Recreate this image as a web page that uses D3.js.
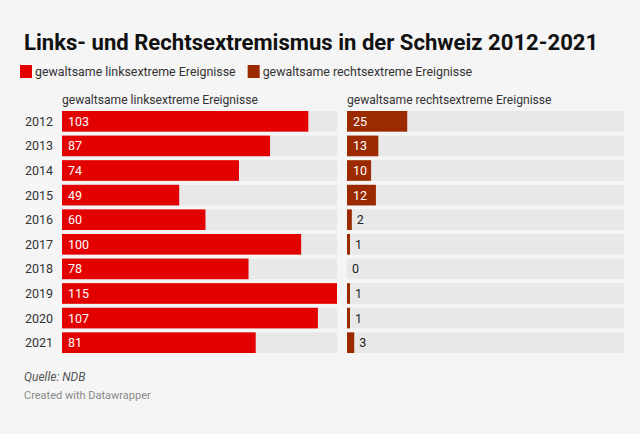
<!DOCTYPE html>
<html>
<head>
<meta charset="utf-8">
<script src="https://cdn.jsdelivr.net/npm/d3@7"></script>
<style>
  body { margin: 0; background: #f5f5f5; }
  svg { display: block; font-family: Roboto, sans-serif; }
</style>
</head>
<body>
<div id="chart"></div>
<script>
// data
var years = ["2012", "2013", "2014", "2015", "2016", "2017", "2018", "2019", "2020", "2021"];
var links = [103, 87, 74, 49, 60, 100, 78, 115, 107, 81];
var rechts = [25, 13, 10, 12, 2, 1, 0, 1, 1, 3];
var seriesNames = ["gewaltsame linksextreme Ereignisse", "gewaltsame rechtsextreme Ereignisse"];
var colors = ["#e30000", "#9c2a00"];

var width = 640, height = 434;

var svg = d3.select("#chart").append("svg")
    .attr("width", width)
    .attr("height", height);

svg.append("rect").attr("width", width).attr("height", height).attr("fill", "#f5f5f5");

// title
svg.append("text")
    .text("Links- und Rechtsextremismus in der Schweiz 2012-2021")
    .attr("x", 24).attr("y", 50)
    .attr("font-size", 22.1).attr("font-weight", 700)
    .attr("fill", "#111");

// legend
var lx = 20;
seriesNames.forEach(function(name, i) {
    svg.append("rect")
        .attr("x", lx).attr("y", 65)
        .attr("width", 12).attr("height", 13)
        .attr("fill", colors[i]);
    var t = svg.append("text")
        .text(name)
        .attr("x", lx + 15).attr("y", 76)
        .attr("font-size", 12.4).attr("fill", "#333");
    lx = lx + 15 + t.node().getComputedTextLength() + 12;
});

var y = d3.scaleBand()
    .domain(years)
    .range([111, 353])
    .paddingInner(0.16)
    .paddingOuter(0);

var panels = [
    { x0: 62, x1: 337, values: links },
    { x0: 347, x1: 624, values: rechts }
];

// year labels
svg.append("g").selectAll("text")
    .data(years)
  .enter().append("text")
    .text(function(d) { return d; })
    .attr("x", 25)
    .attr("y", function(d) { return y(d) + y.bandwidth() / 2 + 4.5; })
    .attr("font-size", 12.5).attr("fill", "#333");

panels.forEach(function(p, pi) {
    var x = d3.scaleLinear().domain([0, 115]).range([p.x0, p.x1]);

    svg.append("text")
        .text(seriesNames[pi])
        .attr("x", p.x0).attr("y", 104)
        .attr("font-size", 12.1).attr("fill", "#333");

    var g = svg.append("g");

    g.selectAll("rect.bg")
        .data(years)
      .enter().append("rect")
        .attr("class", "bg")
        .attr("x", p.x0)
        .attr("y", function(d) { return y(d); })
        .attr("width", p.x1 - p.x0)
        .attr("height", y.bandwidth())
        .attr("fill", "#e8e8e8");

    g.selectAll("rect.bar")
        .data(p.values)
      .enter().append("rect")
        .attr("class", "bar")
        .attr("x", p.x0)
        .attr("y", function(d, i) { return y(years[i]); })
        .attr("width", function(d) { return d == 0 ? 0 : Math.max(x(d) - p.x0, 3); })
        .attr("height", y.bandwidth())
        .attr("fill", colors[pi]);

    g.selectAll("text.val")
        .data(p.values)
      .enter().append("text")
        .attr("class", "val")
        .text(function(d) { return d; })
        .attr("x", function(d) {
            var w = x(d) - p.x0;
            return w > 15 ? p.x0 + 6 : p.x0 + Math.max(w, d == 0 ? 0 : 3) + 5;
        })
        .attr("y", function(d, i) { return y(years[i]) + y.bandwidth() / 2 + 4.5; })
        .attr("font-size", 12.5)
        .attr("fill", function(d) { return x(d) - p.x0 > 15 ? "#fff" : "#222"; });
});

// footer
svg.append("text")
    .text("Quelle: NDB")
    .attr("x", 24).attr("y", 381)
    .attr("font-size", 12).attr("font-style", "italic").attr("fill", "#555");
svg.append("text")
    .text("Created with Datawrapper")
    .attr("x", 24).attr("y", 399)
    .attr("font-size", 11).attr("fill", "#888");
</script>
</body>
</html>
